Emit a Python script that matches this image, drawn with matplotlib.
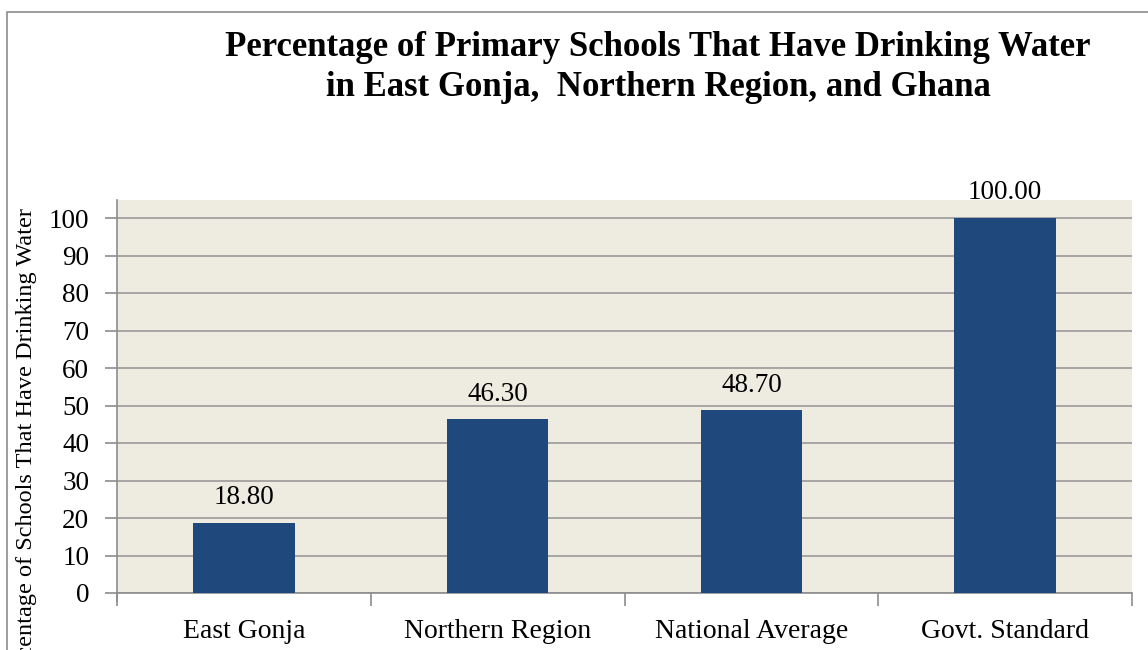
import matplotlib.pyplot as plt
from matplotlib.patches import Rectangle

categories = ["East Gonja", "Northern Region", "National Average", "Govt. Standard"]
values = [18.80, 46.30, 48.70, 100.00]
yticks = [0, 10, 20, 30, 40, 50, 60, 70, 80, 90, 100]

plt.rcParams['font.family'] = ['Liberation Serif', 'DejaVu Serif']

fig = plt.figure(figsize=(11.48, 6.5), dpi=100)
W, H = 1148, 650

# chart border (runs off right/bottom edge as in the reference)
fig.patches.append(Rectangle((7 / W, -0.1), 1.2, 1 - 12 / H + 0.1, transform=fig.transFigure,
                             fill=False, edgecolor='#8c8c8c', linewidth=1.2))

ax = fig.add_axes([117 / W, 1 - 593 / H, (1132 - 117) / W, (593 - 200) / H])
ax.set_facecolor('#EEECE1')

x = range(len(categories))
bars = ax.bar(x, values, width=0.4, color='#1F497D', zorder=3)
for xi, v in zip(x, values):
    ax.text(xi, v + 5.0, f"{v:.2f}", ha='center', va='baseline', fontsize=19.5, zorder=4)

ax.set_xlim(-0.5, len(categories) - 0.5)
ax.set_ylim(0, 104.8)
ax.set_yticks(yticks)
ax.yaxis.grid(True, color='#9a9a9a', linewidth=1.2, zorder=1)
ax.tick_params(axis='y', labelsize=19.5, length=9, color='#8c8c8c', width=1.2, pad=11)

ax.set_xticks(list(x))
ax.set_xticklabels(categories, fontsize=20)
ax.tick_params(axis='x', length=0, pad=19)
# tick marks between categories
ax.set_xticks([i - 0.5 for i in range(len(categories) + 1)], minor=True)
ax.tick_params(axis='x', which='minor', length=9, color='#8c8c8c', width=1.2)

for s in ['top', 'right']:
    ax.spines[s].set_visible(False)
ax.spines['left'].set_color('#8c8c8c')
ax.spines['bottom'].set_color('#8c8c8c')
ax.spines['left'].set_linewidth(1.2)
ax.spines['bottom'].set_linewidth(1.2)
ax.spines['left'].set_bounds(-2.0, 104.8)

fig.text(658 / W, 1 - 31 / H,
         "Percentage of Primary Schools That Have Drinking Water\nin East Gonja,  Northern Region, and Ghana",
         ha='center', va='top', fontsize=25, fontweight='bold', linespacing=1.3)

# axis title is clipped at the left/bottom edge, as in the reference
fig.text(27 / W, 1 - 208 / H, "Percentage of Schools That Have Drinking Water",
         rotation=90, ha='center', va='top', fontsize=17.5)

fig.savefig("out.png", dpi=100)
